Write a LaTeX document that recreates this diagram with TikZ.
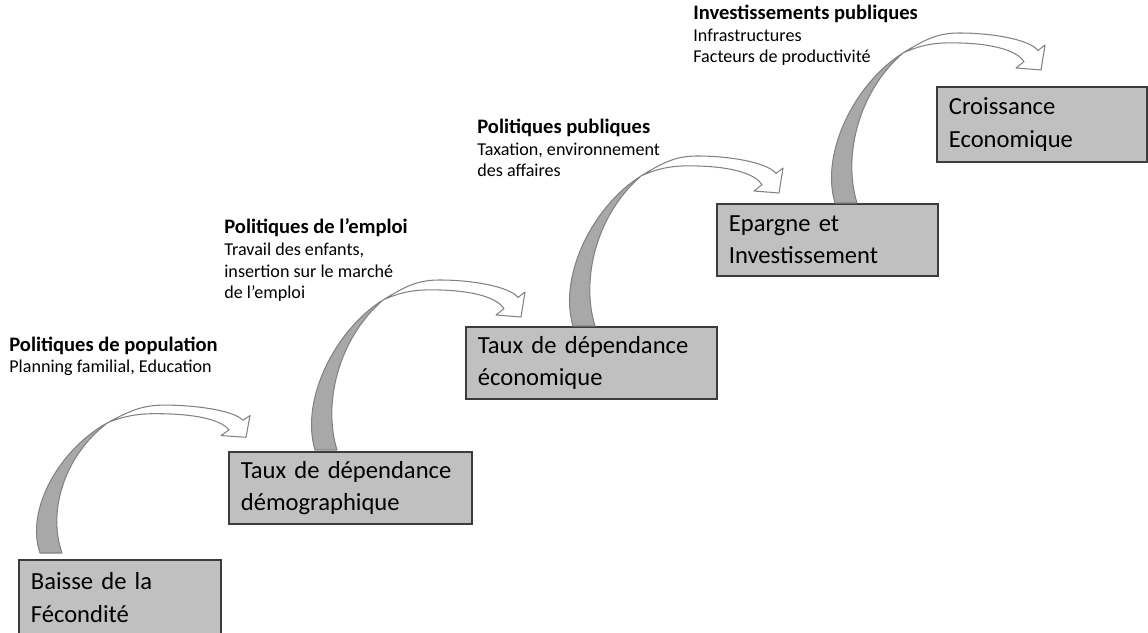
\documentclass[tikz,border=0pt]{standalone}
\usepackage{fontspec}
\setmainfont{Carlito}
\usepackage{tikz}
\usetikzlibrary{calc}
\definecolor{boxgray}{RGB}{192,192,192}
\definecolor{boxedge}{RGB}{60,60,60}
\definecolor{tailgray}{RGB}{168,168,168}
\definecolor{ribbonedge}{RGB}{130,130,130}
\newcommand{\policytitle}[1]{{\fontsize{11.7}{12.5}\selectfont\bfseries #1}}
\tikzset{
  stagebox/.style={
    draw=boxedge,line width=1pt,fill=boxgray,anchor=north west,align=left,
    inner xsep=0.24cm,inner ysep=0pt,minimum height=1.44cm,
    font=\fontsize{14}{18.5}\selectfont
  },
  % base anchor sits on the last line
  policytext/.style={anchor=base west,align=left,inner sep=0pt,
    font=\fontsize{10.3}{12.5}\selectfont},
  ribbon/.style={draw=ribbonedge,line width=0.6pt,line join=round},
  stairarrow/.pic={
    % white band and head
    \draw[ribbon,fill=white] (68,150) .. controls (93,165.6) and (105,170) .. (125,170)
      .. controls (155,170) and (194,164) .. (203,152.5) -- (210,158) -- (206,133)
      -- (181,135) -- (189,141.4) .. controls (182,152) and (160,159) .. (125,160)
      .. controls (105,160.5) and (90,160) .. cycle;
    % shaded tail
    \draw[ribbon,fill=tailgray] (0,0) .. controls (-15,50) and (20,120) .. (68,150)
      .. controls (22,110) and (8,45) .. (22,0) -- cycle;
  }
}

\begin{document}
\begin{tikzpicture}[x=0.02cm,y=0.02cm]
  \useasboundingbox (0,0) rectangle (1148,632);

  \node[stagebox,text width=3.56cm,minimum height=1.5cm] (fecondite) at (18,73) {Baisse de la\\Fécondité};
  \node[stagebox,text width=4.38cm] (demog) at (228,181) {Taux de dépendance\\démographique};
  \node[stagebox,text width=4.54cm] (econ) at (465,306) {Taux de dépendance\\économique};
  \node[stagebox,text width=3.94cm] (epargne) at (716,429) {Epargne et\\Investissement};
  \node[stagebox,text width=3.72cm,minimum height=1.5cm] (croissance) at (936,546) {Croissance\\Economique};

  \pic[yscale=0.87] at ($(fecondite.north west)+(22,6)$) {stairarrow};
  \pic at ($(demog.north west)+(87,1)$) {stairarrow};
  \pic at ($(econ.north west)+(108,0)$) {stairarrow};
  \pic at ($(epargne.north west)+(119,0)$) {stairarrow};

  \node[policytext] (population) at (9,259) {\policytitle{Politiques de population}\\Planning familial, Education};
  \node[policytext] (emploi) at (224,333) {\policytitle{Politiques de l’emploi}\\Travail des enfants,\\insertion sur le marché\\de l’emploi};
  \node[policytext] (publiques) at (477,455) {\policytitle{Politiques publiques}\\Taxation, environnement\\des affaires};
  \node[policytext] (invest) at (693,569) {\policytitle{Investissements publiques}\\Infrastructures\\Facteurs de productivité};
\end{tikzpicture}
\end{document}
